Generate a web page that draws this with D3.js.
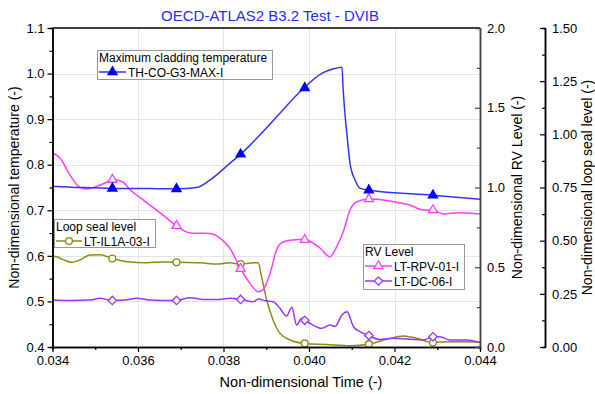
<!DOCTYPE html>
<html>
<head>
<meta charset="utf-8">
<script src="https://cdn.jsdelivr.net/npm/d3@7"></script>
<style>
body { margin: 0; background: #fff; }
text { font-family: "Liberation Sans", Arial, sans-serif; fill: #000; }
</style>
</head>
<body>
<div id="wrapper"></div>
<script>
var width = 595, height = 394;
var plot = {left: 52.5, right: 480, top: 28, bottom: 347};
var lsAxisX = 545;

// max cladding temperature (left axis)
var tempTime = [0.0340, 0.03464, 0.03541, 0.03628, 0.03691, 0.03737, 0.03768, 0.03815, 0.03840, 0.03885, 0.03932, 0.03979, 0.04033, 0.04056, 0.04077, 0.04080, 0.04090, 0.04096, 0.04108, 0.04120, 0.04141, 0.04289, 0.0440];
var tempVals = [0.753, 0.750, 0.748, 0.748, 0.747, 0.750, 0.766, 0.803, 0.823, 0.865, 0.913, 0.960, 1.002, 1.010, 1.014, 0.964, 0.854, 0.803, 0.766, 0.748, 0.744, 0.733, 0.724];

// RV level LT-RPV-01-I (RV axis)
var rpvTime = [0.03400, 0.03418, 0.03441, 0.03464, 0.03481, 0.03499, 0.03523, 0.03539, 0.03563, 0.03581, 0.03612, 0.03628, 0.03658, 0.03689, 0.03722, 0.03745, 0.03768, 0.03792, 0.03815, 0.03839, 0.03862, 0.03881, 0.03892, 0.03909, 0.03924, 0.03939, 0.03963, 0.03988, 0.04026, 0.04049, 0.04065, 0.04080, 0.04096, 0.04112, 0.04141, 0.04159, 0.04197, 0.04236, 0.04267, 0.04290, 0.04313, 0.04353, 0.04400];
var rpvVals = [1.218, 1.183, 1.078, 1.001, 0.991, 1.003, 1.028, 1.050, 1.038, 0.987, 0.922, 0.890, 0.828, 0.762, 0.715, 0.713, 0.712, 0.683, 0.619, 0.495, 0.399, 0.347, 0.357, 0.462, 0.608, 0.658, 0.671, 0.675, 0.619, 0.566, 0.629, 0.721, 0.859, 0.911, 0.928, 0.926, 0.911, 0.890, 0.859, 0.859, 0.834, 0.842, 0.834];

// RV level LT-DC-06-I (RV axis)
var dcTime = [0.03400, 0.03441, 0.03488, 0.03511, 0.03540, 0.03570, 0.03597, 0.03628, 0.03656, 0.03690, 0.03722, 0.03752, 0.03784, 0.03815, 0.03840, 0.03870, 0.03881, 0.03901, 0.03916, 0.03932, 0.03947, 0.03960, 0.03971, 0.03983, 0.03989, 0.04002, 0.04030, 0.04049, 0.04061, 0.04077, 0.04089, 0.04104, 0.04119, 0.04140, 0.04166, 0.04197, 0.04236, 0.04267, 0.04290, 0.04306, 0.04330, 0.04369, 0.04400];
var dcVals = [0.295, 0.292, 0.295, 0.305, 0.292, 0.295, 0.305, 0.295, 0.292, 0.292, 0.309, 0.298, 0.298, 0.305, 0.298, 0.284, 0.301, 0.288, 0.284, 0.243, 0.194, 0.249, 0.138, 0.180, 0.169, 0.149, 0.117, 0.138, 0.129, 0.201, 0.221, 0.127, 0.097, 0.072, 0.047, 0.055, 0.048, 0.044, 0.064, 0.065, 0.044, 0.044, 0.028];

// loop seal level LT-IL1A-03-I (loop seal axis)
var lsTime = [0.03400, 0.03411, 0.03425, 0.03445, 0.03464, 0.03488, 0.03511, 0.03540, 0.03574, 0.03620, 0.03663, 0.03691, 0.03745, 0.03784, 0.03815, 0.03840, 0.03870, 0.03881, 0.03889, 0.03901, 0.03916, 0.03932, 0.03956, 0.03989, 0.04041, 0.04096, 0.04139, 0.04182, 0.04221, 0.04252, 0.04290, 0.04330, 0.04400];
var lsVals = [0.428, 0.423, 0.411, 0.398, 0.409, 0.433, 0.434, 0.416, 0.401, 0.396, 0.400, 0.398, 0.396, 0.390, 0.396, 0.390, 0.396, 0.396, 0.331, 0.221, 0.127, 0.064, 0.033, 0.017, 0.012, 0.006, 0.013, 0.036, 0.052, 0.041, 0.021, 0.025, 0.024];

var markerTimes = [0.0354, 0.0369, 0.0384, 0.0399, 0.0414, 0.0429];

var xTicks = [0.034, 0.036, 0.038, 0.040, 0.042, 0.044];
var xMinor = [0.035, 0.037, 0.039, 0.041, 0.043];
var tempTicks = [0.4, 0.5, 0.6, 0.7, 0.8, 0.9, 1.0, 1.1];
var tempMinor = [0.45, 0.55, 0.65, 0.75, 0.85, 0.95, 1.05];
var rvTicks = [0, 0.5, 1.0, 1.5, 2.0];
var rvMinor = [0.25, 0.75, 1.25, 1.75];
var lsTicks = [0, 0.25, 0.5, 0.75, 1.0, 1.25, 1.5];
var lsMinor = [0.125, 0.375, 0.625, 0.875, 1.125, 1.375];

var svg = d3.select("#wrapper").append("svg")
	.attr("width", width)
	.attr("height", height);

var x = d3.scaleLinear().domain([0.034, 0.044]).range([plot.left, plot.right]);
var yT = d3.scaleLinear().domain([0.4, 1.1]).range([plot.bottom, plot.top]);
var yRV = d3.scaleLinear().domain([0, 2]).range([plot.bottom, plot.top]);
var yLS = d3.scaleLinear().domain([0, 1.5]).range([plot.bottom, plot.top]);

// grid
svg.append("g").selectAll("line.vg")
	.data(xTicks.slice(1, -1))
	.enter().append("line")
	.attr("x1", d => Math.round(x(d)) + 0.5).attr("x2", d => Math.round(x(d)) + 0.5)
	.attr("y1", plot.top).attr("y2", plot.bottom)
	.attr("stroke", "#e4e4e4");
svg.append("g").selectAll("line.hg")
	.data(tempTicks.slice(1, -1))
	.enter().append("line")
	.attr("y1", d => Math.round(yT(d)) + 0.5).attr("y2", d => Math.round(yT(d)) + 0.5)
	.attr("x1", plot.left).attr("x2", plot.right)
	.attr("stroke", "#e4e4e4");

function zip(ts, vs) {
	return ts.map((t, i) => [t, vs[i]]);
}
function valueAt(ts, vs, t) {
	var i = d3.bisectRight(ts, t);
	if (i <= 0) return vs[0];
	if (i >= ts.length) return vs[vs.length - 1];
	var f = (t - ts[i - 1]) / (ts[i] - ts[i - 1]);
	return vs[i - 1] + f * (vs[i] - vs[i - 1]);
}

var series = [
	{name: "LT-IL1A-03-I", t: lsTime, v: lsVals, y: yLS, color: "#8c8c14", marker: "circle", fill: "#fff"},
	{name: "LT-DC-06-I", t: dcTime, v: dcVals, y: yRV, color: "#9b32ff", marker: "diamond", fill: "#fff"},
	{name: "LT-RPV-01-I", t: rpvTime, v: rpvVals, y: yRV, color: "#ff3cff", marker: "triangle", fill: "#fff"},
	{name: "TH-CO-G3-MAX-I", t: tempTime, v: tempVals, y: yT, color: "#3333ff", marker: "triangle", fill: "#0000ff"}
];

function markerPath(kind) {
	if (kind == "circle") return d3.symbol().type(d3.symbolCircle).size(36)();
	if (kind == "diamond") return "M0,-4.2L4.2,0L0,4.2L-4.2,0Z";
	return d3.symbol().type(d3.symbolTriangle).size(36)();
}

series.forEach(function(s) {
	var line = d3.line()
		.x(d => x(d[0]))
		.y(d => s.y(d[1]))
		.curve(d3.curveMonotoneX);
	svg.append("path")
		.datum(zip(s.t, s.v))
		.attr("d", line)
		.attr("fill", "none")
		.attr("stroke", s.color)
		.attr("stroke-width", 1.5);
	svg.append("g").selectAll("path")
		.data(markerTimes)
		.enter().append("path")
		.attr("d", markerPath(s.marker))
		.attr("transform", d => "translate(" + x(d) + "," + s.y(valueAt(s.t, s.v, d)) + ")")
		.attr("fill", s.fill)
		.attr("stroke", s.fill == "#fff" ? s.color : s.fill)
		.attr("stroke-width", 1.3);
});

// frame top
svg.append("line")
	.attr("x1", plot.left).attr("x2", plot.right)
	.attr("y1", plot.top).attr("y2", plot.top)
	.attr("stroke", "#000").attr("stroke-width", 1.5);

// axes
function styleAxis(g, color) {
	g.selectAll("path.domain").attr("stroke", color).attr("stroke-width", 1.5);
	g.selectAll(".tick line").attr("stroke", color).attr("stroke-width", 1.2);
	g.selectAll(".tick text").style("font-size", "13px").attr("fill", "#000")
		.style("font-family", "'Liberation Sans', Arial, sans-serif");
}

var gx = svg.append("g").attr("transform", "translate(0," + plot.bottom + ")");
gx.call(d3.axisBottom(x).tickValues(xMinor).tickSize(3).tickFormat(""));
gx.append("g").call(d3.axisBottom(x).tickValues(xTicks).tickSize(5).tickSizeOuter(0).tickPadding(4).tickFormat(d3.format(".3f")));
gx.call(styleAxis, "#000");

var gy = svg.append("g").attr("transform", "translate(" + plot.left + ",0)");
gy.call(d3.axisLeft(yT).tickValues(tempMinor).tickSize(3).tickFormat(""));
gy.append("g").call(d3.axisLeft(yT).tickValues(tempTicks).tickSize(5).tickSizeOuter(0).tickPadding(3).tickFormat(d3.format(".1f")));
gy.call(styleAxis, "#000");

var grv = svg.append("g").attr("transform", "translate(" + plot.right + ",0)");
grv.call(d3.axisRight(yRV).tickValues(rvMinor).tickSize(-3).tickFormat(""));
grv.append("g").call(d3.axisRight(yRV).tickValues(rvTicks).tickSize(-5).tickSizeOuter(0).tickPadding(7).tickFormat(d3.format(".1f")));
grv.call(styleAxis, "#444");

var gls = svg.append("g").attr("transform", "translate(" + lsAxisX + ",0)");
gls.call(d3.axisRight(yLS).tickValues(lsMinor).tickSize(-3).tickFormat(""));
gls.append("g").call(d3.axisRight(yLS).tickValues(lsTicks).tickSize(-5).tickSizeOuter(0).tickPadding(7).tickFormat(d3.format(".2f")));
gls.call(styleAxis, "#000");

// titles
svg.append("text")
	.attr("x", 270).attr("y", 21)
	.attr("text-anchor", "middle")
	.style("font-size", "15px")
	.style("fill", "#2a2aff")
	.text("OECD-ATLAS2 B3.2 Test - DVIB");

svg.append("text")
	.attr("x", 301).attr("y", 387)
	.attr("text-anchor", "middle")
	.style("font-size", "14.5px")
	.text("Non-dimensional Time (-)");

function vTitle(xp, label) {
	svg.append("text")
		.attr("transform", "translate(" + xp + "," + ((plot.top + plot.bottom) / 2) + ") rotate(-90)")
		.attr("text-anchor", "middle")
		.style("font-size", "14px")
		.text(label);
}
vTitle(19, "Non-dimensional temperature (-)");
vTitle(522, "Non-dimensional RV Level (-)");
vTitle(592, "Non-dimensional loop seal level (-)");

// legends
function legend(box, title, entries) {
	var g = svg.append("g");
	g.append("rect")
		.attr("x", box.x + 0.5).attr("y", box.y + 0.5)
		.attr("width", box.w).attr("height", box.h)
		.attr("fill", "#fff").attr("stroke", "#999");
	g.append("text")
		.attr("x", box.x + 2).attr("y", box.y + 11.5)
		.style("font-size", "12px")
		.text(title);
	entries.forEach(function(e, i) {
		var s = series.find(d => d.name == e);
		var ly = box.y + 22 + i * 15;
		g.append("line")
			.attr("x1", box.x + 2).attr("x2", box.x + 2 + box.lineLen)
			.attr("y1", ly).attr("y2", ly)
			.attr("stroke", s.color).attr("stroke-width", 1.5);
		g.append("path")
			.attr("d", markerPath(s.marker))
			.attr("transform", "translate(" + (box.x + 2 + box.lineLen / 2) + "," + ly + ")")
			.attr("fill", s.fill)
			.attr("stroke", s.fill == "#fff" ? s.color : s.fill)
			.attr("stroke-width", 1.3);
		g.append("text")
			.attr("x", box.x + box.lineLen + 4).attr("y", ly + 4.5)
			.style("font-size", "12px")
			.text(e);
	});
}
legend({x: 97, y: 50, w: 175, h: 29, lineLen: 27}, "Maximum cladding temperature", ["TH-CO-G3-MAX-I"]);
legend({x: 54, y: 219, w: 101, h: 28, lineLen: 26}, "Loop seal level", ["LT-IL1A-03-I"]);
legend({x: 363, y: 244, w: 101, h: 45, lineLen: 27}, "RV Level", ["LT-RPV-01-I", "LT-DC-06-I"]);
</script>
</body>
</html>
